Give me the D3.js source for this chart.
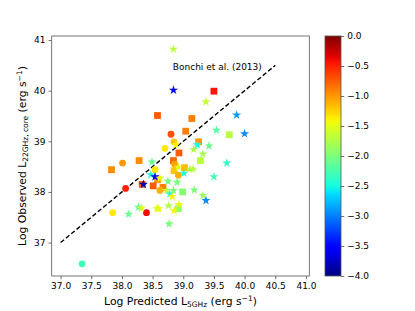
<!DOCTYPE html>
<html>
<head>
<meta charset="utf-8">
<script src="https://cdn.jsdelivr.net/npm/d3@7"></script>
<style>
body { margin: 0; background: #fff; }
svg text { font-family: "DejaVu Sans", sans-serif; fill: #000; }
</style>
</head>
<body>
<div id="chart"></div>
<script>
// squares
var sqX = [39.50, 38.58, 39.14, 39.04, 39.25, 38.93, 39.75, 37.83, 38.28, 38.84, 39.02, 39.28, 38.85, 38.58, 38.51, 38.33, 38.67, 38.99, 38.92];
var sqY = [39.99, 39.51, 39.45, 39.20, 38.99, 38.77, 39.13, 38.44, 38.62, 38.62, 38.48, 38.62, 38.42, 38.24, 38.12, 38.15, 38.09, 38.00, 37.67];
var sqC = [-0.45, -0.75, -0.9, -0.9, -1.0, -0.75, -1.7, -0.95, -0.95, -0.8, -1.15, -1.7, -1.2, -1.0, -0.75, -0.75, -0.9, -1.95, -1.9];
// circles
var ciX = [38.80, 38.85, 38.70, 38.01, 38.86, 38.54, 38.92, 38.62, 38.06, 38.40, 37.85, 37.35];
var ciY = [39.14, 38.99, 38.86, 38.57, 38.55, 38.44, 38.33, 38.03, 38.07, 37.59, 37.59, 36.58];
var ciC = [-0.7, -1.2, -1.35, -1.0, -1.05, -1.35, -1.1, -1.1, -0.5, -0.4, -1.35, -2.3];
// stars
var stX = [38.84, 38.84, 39.37, 39.87, 40.00, 39.54, 38.88, 39.17, 39.42, 39.32, 39.23, 38.49, 38.92, 39.11, 39.16, 38.47, 38.54, 38.62, 39.01, 39.50,
           39.71, 38.35, 38.75, 38.90, 38.73, 38.84, 38.78, 38.82, 39.18, 39.32, 39.37, 38.27, 38.32, 38.11, 38.57, 38.60, 38.76, 38.85, 38.93, 38.77];
var stY = [40.82, 40.01, 39.78, 39.52, 39.15, 39.22, 38.93, 38.84, 38.91, 38.75, 38.93, 38.59, 38.49, 38.45, 38.45, 38.34, 38.30, 38.27, 38.37, 38.30,
           38.57, 38.15, 38.21, 38.19, 38.03, 38.03, 37.96, 37.91, 38.04, 37.93, 37.83, 37.70, 37.68, 37.56, 37.67, 37.67, 37.73, 37.63, 37.75, 37.37];
var stC = [-1.7, -3.6, -1.65, -2.9, -2.95, -2.2, -1.4, -1.75, -2.1, -1.8, -2.5, -2.1, -1.5, -1.75, -1.7, -2.4, -3.6, -1.45, -2.4, -2.25,
           -2.35, -3.85, -2.0, -2.0, -1.7, -2.0, -2.4, -1.4, -2.0, -1.85, -2.95, -2.15, -1.5, -2.1, -1.5, -1.5, -1.75, -1.4, -1.5, -2.0];

var xTicks = [37.0, 37.5, 38.0, 38.5, 39.0, 39.5, 40.0, 40.5, 41.0];
var yTicks = [37, 38, 39, 40, 41];
var cTicks = [0.0, -0.5, -1.0, -1.5, -2.0, -2.5, -3.0, -3.5, -4.0];
var oneToOne = [37.0, 40.5];

var W = 415, H = 311;
var L = 51.7, R = 309.3, T = 36, B = 276;
var svg = d3.select("#chart").append("svg").attr("width", W).attr("height", H);

var x = d3.scaleLinear().domain([36.855, 41.055]).range([L, R]);
var y = d3.scaleLinear().domain([36.34, 41.08]).range([B, T]);

// matplotlib jet
function jet(t) {
	function seg(pts) {
		for (var i = 1; i < pts.length; i++) {
			if (t <= pts[i][0]) {
				var a = pts[i-1], b = pts[i];
				return a[1] + (b[1]-a[1]) * (t-a[0]) / (b[0]-a[0]);
			}
		}
		return pts[pts.length-1][1];
	}
	var r = seg([[0,0],[0.35,0],[0.66,1],[0.89,1],[1,0.5]]);
	var g = seg([[0,0],[0.125,0],[0.375,1],[0.64,1],[0.91,0],[1,0]]);
	var b = seg([[0,0.5],[0.11,1],[0.34,1],[0.65,0],[1,0]]);
	return d3.rgb(r*255, g*255, b*255).toString();
}
var cnorm = d3.scaleLinear().domain([-4, 0]).range([0, 1]).clamp(true);
function col(v) { return jet(cnorm(v)); }

// 1:1 line
svg.append("line")
	.attr("x1", x(oneToOne[0])).attr("y1", y(oneToOne[0]))
	.attr("x2", x(oneToOne[1])).attr("y2", y(oneToOne[1]))
	.attr("stroke", "#000").attr("stroke-width", 1.4)
	.attr("stroke-dasharray", "4.5,2.4");

svg.append("text").attr("x", x(38.83)).attr("y", y(40.47) + 3.2)
	.attr("font-size", 9).text("Bonchi et al. (2013)");

var g = svg.append("g");
// squares
g.selectAll("rect.sq").data(d3.range(sqX.length)).enter().append("rect")
	.attr("x", function(i) { return x(sqX[i]) - 3.4; })
	.attr("y", function(i) { return y(sqY[i]) - 3.4; })
	.attr("width", 6.8).attr("height", 6.8)
	.attr("fill", function(i) { return col(sqC[i]); });
// circles
g.selectAll("circle").data(d3.range(ciX.length)).enter().append("circle")
	.attr("cx", function(i) { return x(ciX[i]); })
	.attr("cy", function(i) { return y(ciY[i]); })
	.attr("r", 3.4)
	.attr("fill", function(i) { return col(ciC[i]); });
// stars
var star = d3.symbol().type(d3.symbolStar).size(26);
g.selectAll("path.st").data(d3.range(stX.length)).enter().append("path")
	.attr("d", star)
	.attr("transform", function(i) { return "translate(" + x(stX[i]) + "," + y(stY[i]) + ")"; })
	.attr("fill", function(i) { return col(stC[i]); });

// axes
var xAxis = d3.axisBottom(x).tickValues(xTicks).tickFormat(d3.format(".1f")).tickSize(3.2).tickPadding(3);
var yAxis = d3.axisLeft(y).tickValues(yTicks).tickFormat(d3.format("d")).tickSize(3.2).tickPadding(3);
var gx = svg.append("g").attr("transform", "translate(0," + B + ")").call(xAxis);
var gy = svg.append("g").attr("transform", "translate(" + L + ",0)").call(yAxis);
[gx, gy].forEach(function(a) {
	a.select(".domain").remove();
	a.selectAll("text").attr("font-size", 9).attr("font-family", "DejaVu Sans");
	a.selectAll("line").attr("stroke", "#333").attr("stroke-width", 0.7);
});
svg.append("rect").attr("x", L).attr("y", T).attr("width", R-L).attr("height", B-T)
	.attr("fill", "none").attr("stroke", "#555").attr("stroke-width", 0.8);

// axis labels
var xl = svg.append("text").attr("x", (L+R)/2).attr("y", 305).attr("text-anchor", "middle").attr("font-size", 10.8);
xl.append("tspan").text("Log Predicted L");
xl.append("tspan").attr("font-size", 7.5).attr("dy", 2).text("5GHz");
xl.append("tspan").attr("dy", -2).text(" (erg s");
xl.append("tspan").attr("font-size", 7.5).attr("dy", -4).text("\u22121");
xl.append("tspan").attr("dy", 4).text(")");

var yl = svg.append("text").attr("transform", "translate(26," + (T+B)/2 + ") rotate(-90)")
	.attr("text-anchor", "middle").attr("font-size", 10.8);
yl.append("tspan").text("Log Observed L");
yl.append("tspan").attr("font-size", 7.5).attr("dy", 2).text("22GHz, core");
yl.append("tspan").attr("dy", -2).text(" (erg s");
yl.append("tspan").attr("font-size", 7.5).attr("dy", -4).text("\u22121");
yl.append("tspan").attr("dy", 4).text(")");

// colorbar
var cbL = 325, cbW = 16;
var cy = d3.scaleLinear().domain([-4, 0]).range([B, T]);
var grad = svg.append("defs").append("linearGradient").attr("id", "jetg")
	.attr("x1", 0).attr("y1", 1).attr("x2", 0).attr("y2", 0);
d3.range(0, 1.0001, 0.02).forEach(function(t) {
	grad.append("stop").attr("offset", t).attr("stop-color", jet(t));
});
svg.append("rect").attr("x", cbL).attr("y", T).attr("width", cbW).attr("height", B-T)
	.attr("fill", "url(#jetg)").attr("stroke", "#555").attr("stroke-width", 0.8);
var cAxis = d3.axisRight(cy).tickValues(cTicks).tickSize(3.2).tickPadding(3)
	.tickFormat(function(d) { return d3.format(".1f")(d).replace("-", "\u2212"); });
var gc = svg.append("g").attr("transform", "translate(" + (cbL + cbW) + ",0)").call(cAxis);
gc.select(".domain").remove();
gc.selectAll("text").attr("font-size", 9).attr("font-family", "DejaVu Sans");
gc.selectAll("line").attr("stroke", "#333").attr("stroke-width", 0.7);
</script>
</body>
</html>
